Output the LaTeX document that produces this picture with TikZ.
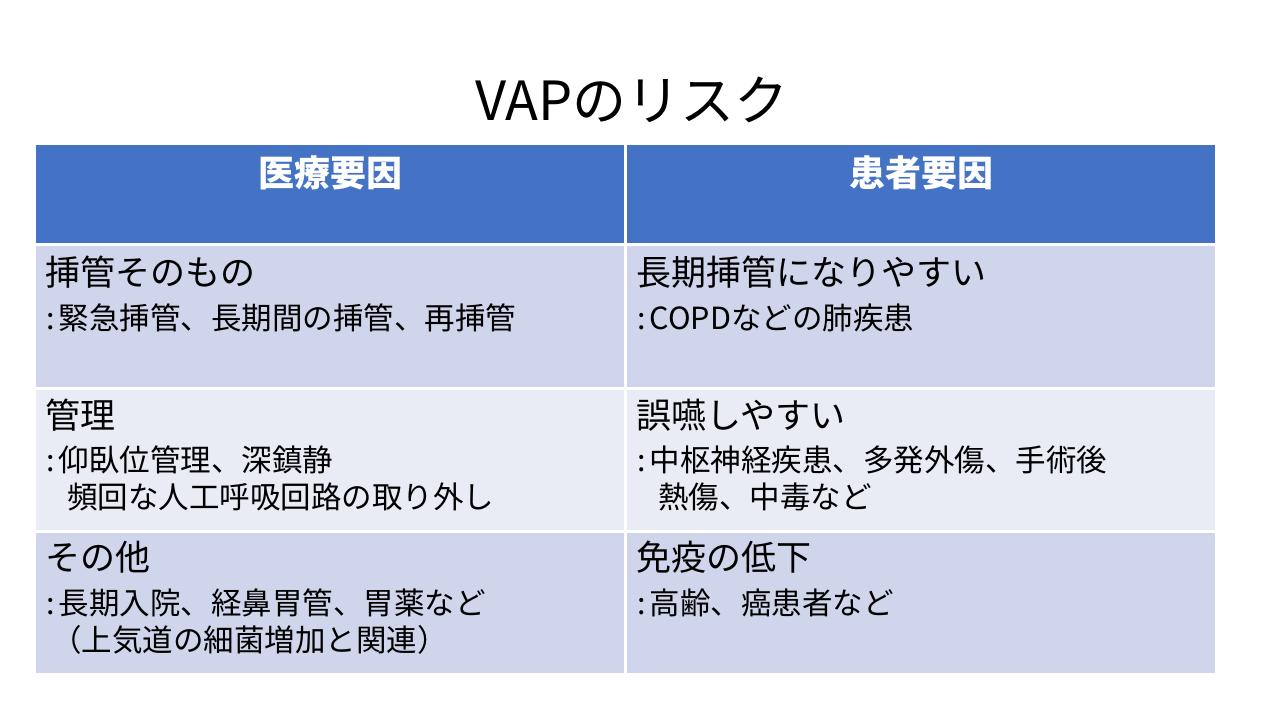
\documentclass[tikz,border=0pt]{standalone}
\usepackage{fontspec}
\setmainfont{Noto Sans CJK JP}
\definecolor{hdr}{HTML}{4472C4}
\definecolor{rowA}{HTML}{CFD5EA}
\definecolor{rowB}{HTML}{E9EBF5}
\newcommand{\cln}{:\kern4pt}
\begin{document}
\begin{tikzpicture}[x=1pt,y=-1pt,
  cellA/.style={fill=rowA,draw=none},
  cellB/.style={fill=rowB,draw=none},
  hcell/.style={fill=hdr,draw=none},
  head/.style={text=white,font=\fontsize{36}{40}\selectfont\bfseries,inner sep=0pt},
  ttl/.style={font=\fontsize{35}{40}\selectfont,anchor=west,inner sep=0pt},
  sub/.style={font=\fontsize{30.5}{36}\selectfont,anchor=west,inner sep=0pt}]
\useasboundingbox (0,0) rectangle (1266,708);
\fill[white] (0,0) rectangle (1266,708);
% cells
\path[hcell] (36,145) rectangle (624,243);
\path[hcell] (627,145) rectangle (1215,243);
\path[cellA] (36,246) rectangle (624,387);
\path[cellA] (627,246) rectangle (1215,387);
\path[cellB] (36,390) rectangle (624,530);
\path[cellB] (627,390) rectangle (1215,530);
\path[cellA] (36,533) rectangle (624,673);
\path[cellA] (627,533) rectangle (1215,673);
% title
\node[font=\fontsize{54}{60}\selectfont,inner sep=0pt] (title) at (632,100) {VAPのリスク};
% headers
\node[head] (h1) at (330,173) {医療要因};
\node[head] (h2) at (921,173) {患者要因};
% row 1
\node[ttl] (t1) at (45,272) {挿管そのもの};
\node[sub] (s1) at (46,318) {\cln 緊急挿管、長期間の挿管、再挿管};
\node[ttl] (t2) at (636,272) {長期挿管になりやすい};
\node[sub] (s2) at (637,318) {\cln COPDなどの肺疾患};
% row 2
\node[ttl] (t3) at (45,415) {管理};
\node[sub] (s3) at (46,460) {\cln 仰臥位管理、深鎮静};
\node[sub] (s3b) at (67,497) {頻回な人工呼吸回路の取り外し};
\node[ttl] (t4) at (636,415) {誤嚥しやすい};
\node[sub] (s4) at (637,460) {\cln 中枢神経疾患、多発外傷、手術後};
\node[sub] (s4b) at (658,497) {熱傷、中毒など};
% row 3
\node[ttl] (t5) at (45,557) {その他};
\node[sub] (s5) at (46,603) {\cln 長期入院、経鼻胃管、胃薬など};
\node[sub] (s5b) at (51,640) {（上気道の細菌増加と関連）};
\node[ttl] (t6) at (636,557) {免疫の低下};
\node[sub] (s6) at (637,603) {\cln 高齢、癌患者など};
\end{tikzpicture}
\end{document}
